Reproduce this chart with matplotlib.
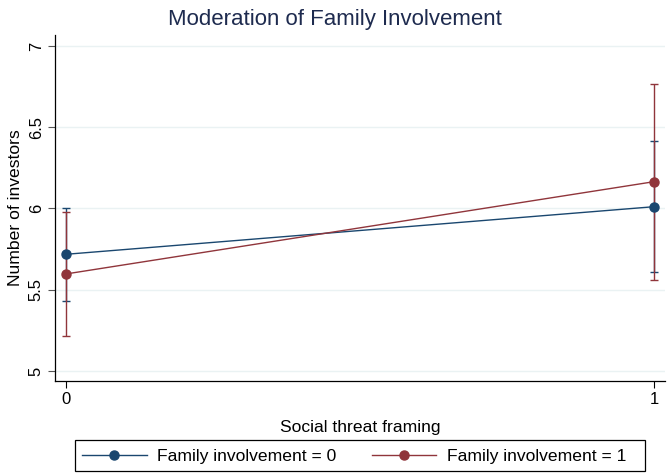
import matplotlib
matplotlib.use('Agg')
import matplotlib.pyplot as plt
from matplotlib.lines import Line2D
from matplotlib.patches import Rectangle

plt.rcParams['font.family'] = ['Liberation Sans', 'DejaVu Sans']

# margins at social threat framing = 0 / 1
framing = [0, 1]
fam0_margin = [5.718, 6.011]
fam0_ci = [0.285, 0.405]
fam1_margin = [5.597, 6.165]
fam1_ci = [0.382, 0.604]

blue = '#1a476f'
red = '#90353b'
W, H = 668, 476

fig = plt.figure(figsize=(6.68, 4.76), dpi=100)
ax = fig.add_axes([55 / W, 95 / H, 610 / W, 346 / H])

ax.errorbar(framing, fam0_margin, yerr=fam0_ci, color=blue, marker='o', markersize=6.5,
            linewidth=1.0, elinewidth=1.0, capsize=3, capthick=1.0, zorder=3)
ax.errorbar(framing, fam1_margin, yerr=fam1_ci, color=red, marker='o', markersize=6.5,
            linewidth=1.0, elinewidth=1.0, capsize=3, capthick=1.0, zorder=3)

ax.set_xlim(-0.0187, 1.0187)
ax.set_ylim(4.938, 7.068)
ax.set_xticks([0, 1])
ax.set_yticks([5, 5.5, 6, 6.5, 7])
ax.set_yticklabels(['5', '5.5', '6', '6.5', '7'], rotation=90, va='center')
ax.grid(axis='y', color='#eaf2f3', linewidth=1.0)
ax.set_axisbelow(True)
ax.tick_params(length=5, width=0.8, labelsize=12, colors='black', pad=3)
ax.tick_params(axis='y', color='#555555')

for s in ['top', 'right']:
    ax.spines[s].set_visible(False)
for s in ['left', 'bottom']:
    ax.spines[s].set_linewidth(0.9)

fig.text(335 / W, 1 - 20 / H, 'Moderation of Family Involvement', fontsize=16,
         color='#1e2b4f', ha='center', va='center')
ax.set_xlabel('Social threat framing', fontsize=12.6, labelpad=9)
ax.set_ylabel('Number of investors', fontsize=12.6, labelpad=4)

handles = [Line2D([], [], color=blue, marker='o', markersize=6.5, linewidth=1.0),
           Line2D([], [], color=red, marker='o', markersize=6.5, linewidth=1.0)]
labels = ['Family involvement = 0', 'Family involvement = 1']
leg = fig.legend(handles, labels, loc='center left', bbox_to_anchor=(82 / W, 1 - 456 / H),
                 ncol=2, fontsize=12.6, frameon=False, handlelength=3.7,
                 handletextpad=0.6, columnspacing=2.0, borderpad=0, borderaxespad=0)
fig.patches.append(Rectangle((75 / W, 1 - 471 / H), 570 / W, 31 / H,
                             transform=fig.transFigure, fill=False,
                             edgecolor='black', linewidth=0.9))

fig.savefig('out.png', dpi=100)
